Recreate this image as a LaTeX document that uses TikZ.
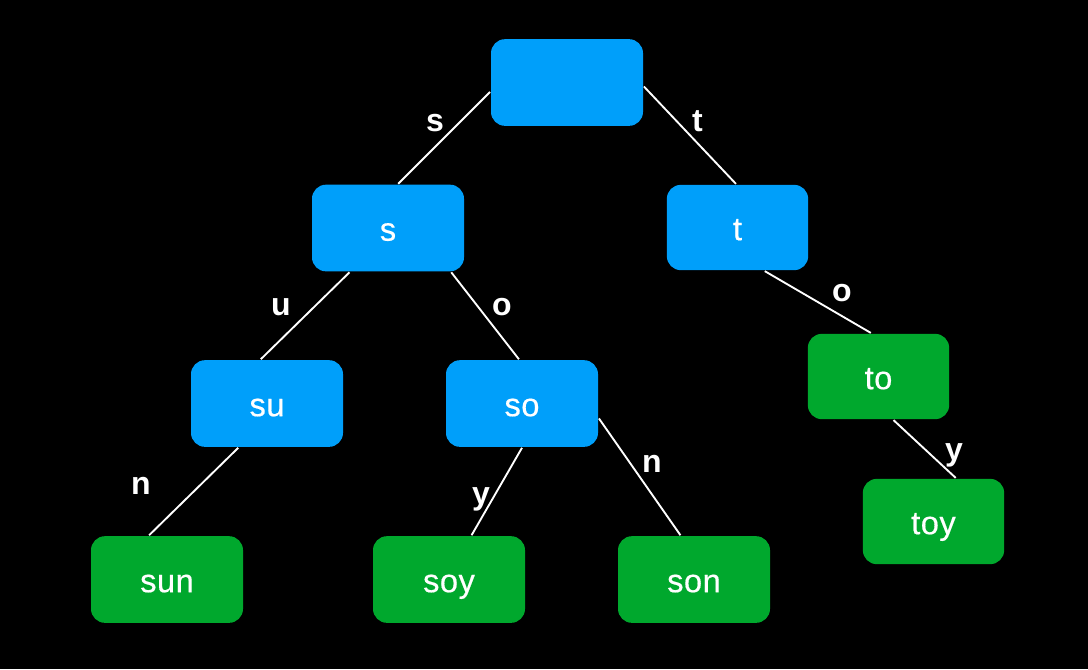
\documentclass[tikz,border=0pt]{standalone}
\usepackage{fontspec}
\setmainfont{Liberation Sans}
\newfontfamily\trienodefont[FakeBold=0.45, LetterSpace=1.5]{Liberation Sans}
\usetikzlibrary{calc,positioning}
\tikzset{
  trienode/.style = {align=center, inner sep=0pt, rectangle, rounded corners=10.5pt, draw=none, text=white,
  text centered, font=\trienodefont\fontsize{24.5}{28}\selectfont, text height=19pt, text depth=0pt},
  trie_w/.style = {trienode, minimum width=114pt, minimum height=65pt},
  trie_n/.style = {trienode, minimum width=106pt, minimum height=64pt},
  edge_l/.style = {white, inner sep=0pt, anchor=base, font=\fontsize{24}{28}\selectfont\bfseries}
}
\definecolor{my_blue}{RGB}{0, 159, 250}
\definecolor{my_green}{RGB}{0, 168, 45}

\begin{document}
\begin{tikzpicture}[x=0.75pt, y=-0.75pt, line width=1.4pt,
        	pre_blue/.style={fill=my_blue},
        	word_green/.style={fill=my_green},
        	link/.style={draw=white}]
    \fill[black] (0,0) rectangle (1088,669);
    % trie nodes
    \node [trie_w, pre_blue] (root) at (567,82.5) {};
    \node [trie_w, pre_blue] (s) at (388,228) {s};
    \node [trie_n, pre_blue] (t) at (737.5,227.5) {t};
    \node [trie_w, pre_blue] (su) at (267,403.5) {su};
    \node [trie_w, pre_blue] (so) at (522,403.5) {so};
    \node [trie_n, word_green] (to) at (878.5,376.5) {to};
    \node [trie_w, word_green] (sun) at (167,579.5) {sun};
    \node [trie_w, word_green] (soy) at (449,579.5) {soy};
    \node [trie_w, word_green] (son) at (694,579.5) {son};
    \node [trie_n, word_green] (toy) at (933.5,521.5) {toy};
    % links
    \draw [link] (root.187) -- (s.77);
    \draw [link] (root.357) -- (t.92);
    \draw [link] (s.229) -- (su.98);
    \draw [link] (s.325) -- (so.94);
    \draw [link] (t.302) -- (to.100);
    \draw [link] (su.237) -- (sun.112);
    \draw [link] (so.270) -- (soy.63);
    \draw [link] (so.349) -- (son.107);
    \draw [link] (to.289) -- (toy.63);
    % letters on the links
    \node [edge_l] (l_s) at (435,131) {s};
    \node [edge_l] (l_t) at (697.5,131) {t};
    \node [edge_l] (l_u) at (281,315) {u};
    \node [edge_l] (l_o) at (502,315) {o};
    \node [edge_l] (l_to) at (842,301) {o};
    \node [edge_l] (l_n) at (141,494) {n};
    \node [edge_l] (l_y) at (481,504) {y};
    \node [edge_l] (l_on) at (652,472.5) {n};
    \node [edge_l] (l_oy) at (954,460) {y};
\end{tikzpicture}
\end{document}
